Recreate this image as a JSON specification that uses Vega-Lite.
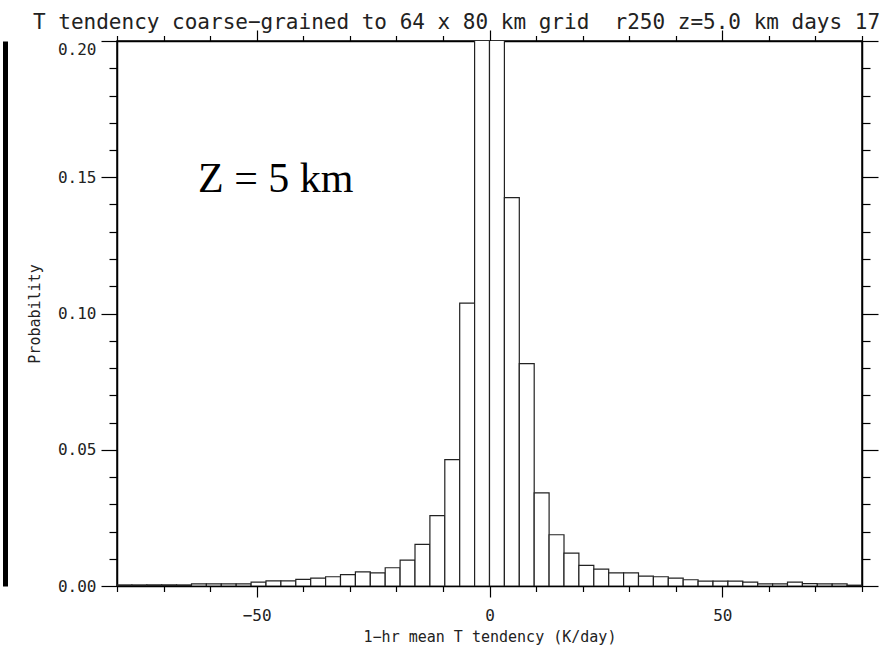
{
  "$schema": "https://vega.github.io/schema/vega-lite/v6.json",
  "width": 745,
  "height": 545,
  "autosize": "none",
  "padding": {"left": 117, "top": 41, "right": 29, "bottom": 73},
  "background": "white",
  "title": {
    "text": "T tendency coarse−grained to 64 x 80 km grid\u00a0 r250 z=5.0 km days 17",
    "anchor": "start",
    "frame": "group",
    "orient": "top",
    "dx": -84,
    "dy": 23,
    "offset": 2,
    "baseline": "alphabetic",
    "font": "DejaVu Sans Mono",
    "fontSize": 21,
    "fontWeight": "normal",
    "color": "#222"
  },
  "config": {
    "view": {"stroke": "black", "strokeWidth": 1.5},
    "axis": {
      "grid": false,
      "domainColor": "black",
      "domainWidth": 1.5,
      "tickColor": "black",
      "tickWidth": 1.2,
      "labelFont": "DejaVu Sans Mono",
      "labelFontSize": 16,
      "labelColor": "#222",
      "labelOverlap": false,
      "labelFlush": false,
      "titleFont": "DejaVu Sans Mono",
      "titleFontSize": 15,
      "titleFontWeight": "normal",
      "titleColor": "#222"
    }
  },
  "data": {
    "values": [
      {"lo": -80, "hi": -76.8, "p": 0.0004},
      {"lo": -76.8, "hi": -73.6, "p": 0.0004},
      {"lo": -73.6, "hi": -70.4, "p": 0.0004},
      {"lo": -70.4, "hi": -67.2, "p": 0.0004},
      {"lo": -67.2, "hi": -64, "p": 0.0004},
      {"lo": -64, "hi": -60.8, "p": 0.0008},
      {"lo": -60.8, "hi": -57.6, "p": 0.0008},
      {"lo": -57.6, "hi": -54.4, "p": 0.0008},
      {"lo": -54.4, "hi": -51.2, "p": 0.0008},
      {"lo": -51.2, "hi": -48, "p": 0.0014},
      {"lo": -48, "hi": -44.8, "p": 0.0019},
      {"lo": -44.8, "hi": -41.6, "p": 0.0019},
      {"lo": -41.6, "hi": -38.4, "p": 0.0024},
      {"lo": -38.4, "hi": -35.2, "p": 0.0029},
      {"lo": -35.2, "hi": -32, "p": 0.0034},
      {"lo": -32, "hi": -28.8, "p": 0.0042},
      {"lo": -28.8, "hi": -25.6, "p": 0.0052},
      {"lo": -25.6, "hi": -22.4, "p": 0.0048},
      {"lo": -22.4, "hi": -19.2, "p": 0.0067},
      {"lo": -19.2, "hi": -16, "p": 0.0095},
      {"lo": -16, "hi": -12.8, "p": 0.0153},
      {"lo": -12.8, "hi": -9.6, "p": 0.0258},
      {"lo": -9.6, "hi": -6.4, "p": 0.0464},
      {"lo": -6.4, "hi": -3.2, "p": 0.1038},
      {"lo": -3.2, "hi": 0, "p": 0.26},
      {"lo": 0, "hi": 3.2, "p": 0.25},
      {"lo": 3.2, "hi": 6.4, "p": 0.1425},
      {"lo": 6.4, "hi": 9.6, "p": 0.0816},
      {"lo": 9.6, "hi": 12.8, "p": 0.0342},
      {"lo": 12.8, "hi": 16, "p": 0.0188},
      {"lo": 16, "hi": 19.2, "p": 0.0121},
      {"lo": 19.2, "hi": 22.4, "p": 0.0076},
      {"lo": 22.4, "hi": 25.6, "p": 0.0062},
      {"lo": 25.6, "hi": 28.8, "p": 0.0048},
      {"lo": 28.8, "hi": 32, "p": 0.0048},
      {"lo": 32, "hi": 35.2, "p": 0.0036},
      {"lo": 35.2, "hi": 38.4, "p": 0.0034},
      {"lo": 38.4, "hi": 41.6, "p": 0.0029},
      {"lo": 41.6, "hi": 44.8, "p": 0.0023},
      {"lo": 44.8, "hi": 48, "p": 0.0018},
      {"lo": 48, "hi": 51.2, "p": 0.0018},
      {"lo": 51.2, "hi": 54.4, "p": 0.0018},
      {"lo": 54.4, "hi": 57.6, "p": 0.0014},
      {"lo": 57.6, "hi": 60.8, "p": 0.0008},
      {"lo": 60.8, "hi": 64, "p": 0.0008},
      {"lo": 64, "hi": 67.2, "p": 0.0014},
      {"lo": 67.2, "hi": 70.4, "p": 0.0009},
      {"lo": 70.4, "hi": 73.6, "p": 0.0008},
      {"lo": 73.6, "hi": 76.8, "p": 0.0008},
      {"lo": 76.8, "hi": 80, "p": 0.0003}
    ]
  },
  "layer": [
    {
      "mark": {"type": "bar", "fill": "white", "stroke": "#222", "strokeWidth": 1.2, "clip": true},
      "encoding": {
        "x": {
          "field": "lo", "type": "quantitative",
          "scale": {"domain": [-80, 80], "nice": false, "zero": false},
          "axis": {
            "orient": "bottom",
            "values": [-80, -70, -60, -50, -40, -30, -20, -10, 0, 10, 20, 30, 40, 50, 60, 70, 80],
            "format": "d",
            "labelExpr": "datum.value % 50 === 0 ? datum.label : ''",
            "tickSize": {"condition": {"test": "datum.value % 50 === 0", "value": 11}, "value": 5.5},
            "labelPadding": 10,
            "title": "1−hr mean T tendency (K/day)",
            "titlePadding": 6
          }
        },
        "x2": {"field": "hi"},
        "y": {
          "field": "p", "type": "quantitative",
          "scale": {"domain": [0, 0.2], "nice": false},
          "axis": {
            "orient": "left",
            "values": [0, 0.01, 0.02, 0.03, 0.04, 0.05, 0.06, 0.07, 0.08, 0.09, 0.1, 0.11, 0.12, 0.13, 0.14, 0.15, 0.16, 0.17, 0.18, 0.19, 0.2],
            "format": ".2f",
            "labelExpr": "abs(round(datum.value*100)) % 5 === 0 ? datum.label : ''",
            "labelOffset": {"condition": {"test": "datum.value > 0.199", "value": 8}, "value": 0},
            "tickSize": {"condition": {"test": "abs(round(datum.value*100)) % 5 === 0", "value": 16}, "value": 8},
            "labelPadding": 5,
            "title": "Probability",
            "titlePadding": 15
          }
        },
        "y2": {"datum": 0}
      }
    },
    {
      "mark": {"type": "bar", "opacity": 0, "clip": true},
      "encoding": {
        "x": {
          "field": "lo", "type": "quantitative",
          "axis": {
            "orient": "top",
            "values": [-80, -70, -60, -50, -40, -30, -20, -10, 0, 10, 20, 30, 40, 50, 60, 70, 80],
            "labels": false,
            "title": null,
            "tickSize": {"condition": {"test": "datum.value % 50 === 0", "value": 11}, "value": 5.5}
          }
        },
        "x2": {"field": "hi"},
        "y": {
          "field": "p", "type": "quantitative",
          "axis": {
            "orient": "right",
            "values": [0, 0.01, 0.02, 0.03, 0.04, 0.05, 0.06, 0.07, 0.08, 0.09, 0.1, 0.11, 0.12, 0.13, 0.14, 0.15, 0.16, 0.17, 0.18, 0.19, 0.2],
            "labels": false,
            "title": null,
            "tickSize": {"condition": {"test": "abs(round(datum.value*100)) % 5 === 0", "value": 16}, "value": 8}
          }
        },
        "y2": {"datum": 0}
      }
    },
    {
      "mark": {"type": "bar", "opacity": 0, "clip": true},
      "encoding": {
        "x": {"field": "lo", "type": "quantitative", "axis": null},
        "x2": {"field": "hi"},
        "y": {
          "field": "p", "type": "quantitative",
          "axis": {
            "orient": "left",
            "offset": 112,
            "domainWidth": 5,
            "domainColor": "black",
            "ticks": false,
            "labels": false,
            "title": null
          }
        },
        "y2": {"datum": 0}
      }
    },
    {
      "data": {"values": [{"label": "Z = 5 km"}]},
      "mark": {"type": "text", "font": "Liberation Serif", "fontSize": 42, "align": "left", "baseline": "alphabetic", "color": "black"},
      "encoding": {
        "text": {"field": "label"},
        "x": {"datum": -62.6, "type": "quantitative", "axis": null},
        "y": {"datum": 0.1446, "type": "quantitative", "axis": null}
      }
    }
  ],
  "resolve": {"axis": {"x": "independent", "y": "independent"}}
}
